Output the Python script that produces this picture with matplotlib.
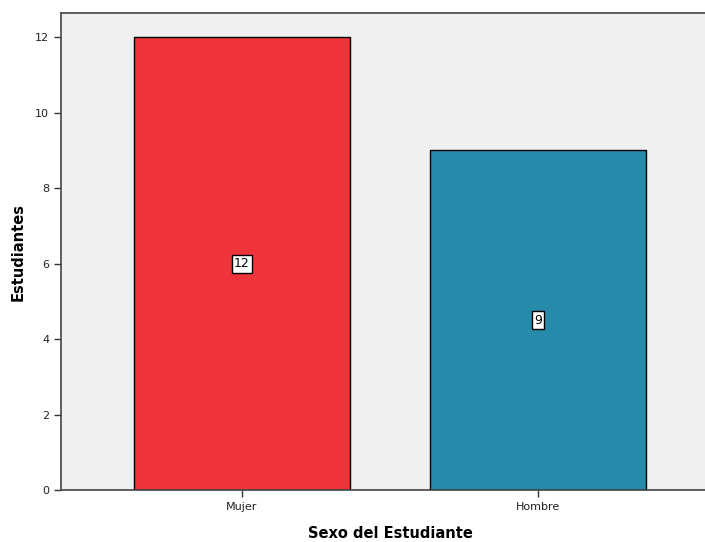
import matplotlib
matplotlib.use("Agg")
import matplotlib.pyplot as plt

categories = ["Mujer", "Hombre"]
counts = [12, 9]
bar_colors = ["#F0343B", "#268BAB"]

fig = plt.figure(figsize=(7.05, 5.42), dpi=100)
# plot area runs off the right edge of the figure
ax = fig.add_axes([0.0865, 0.0959, 0.9333, 0.8801])
ax.set_facecolor("#F0F0F0")

x = range(len(categories))
bars = ax.bar(x, counts, width=0.73, color=bar_colors, edgecolor="black", linewidth=1.0, zorder=2)

for xi, v in zip(x, counts):
    ax.text(xi, v / 2, str(v), ha="center", va="center", fontsize=9,
            bbox=dict(boxstyle="square,pad=0.2", facecolor="white", edgecolor="black", linewidth=1.0),
            zorder=3)

ax.set_xlim(-0.611, 1.611)
ax.set_ylim(0, 12.64)
ax.set_yticks([0, 2, 4, 6, 8, 10, 12])
ax.set_xticks(list(x))
ax.set_xticklabels(categories)
ax.tick_params(axis="both", labelsize=8, length=5, width=1, color="#333333", labelcolor="#222222")

for side in ["left", "bottom", "top"]:
    ax.spines[side].set_color("#444444")
    ax.spines[side].set_linewidth(1.2)
ax.spines["right"].set_visible(False)

ax.set_ylabel("Estudiantes", fontsize=10.5, fontweight="bold", labelpad=7)
ax.set_xlabel("Sexo del Estudiante", fontsize=10.5, fontweight="bold", labelpad=10)

fig.savefig("out.png", dpi=100)
